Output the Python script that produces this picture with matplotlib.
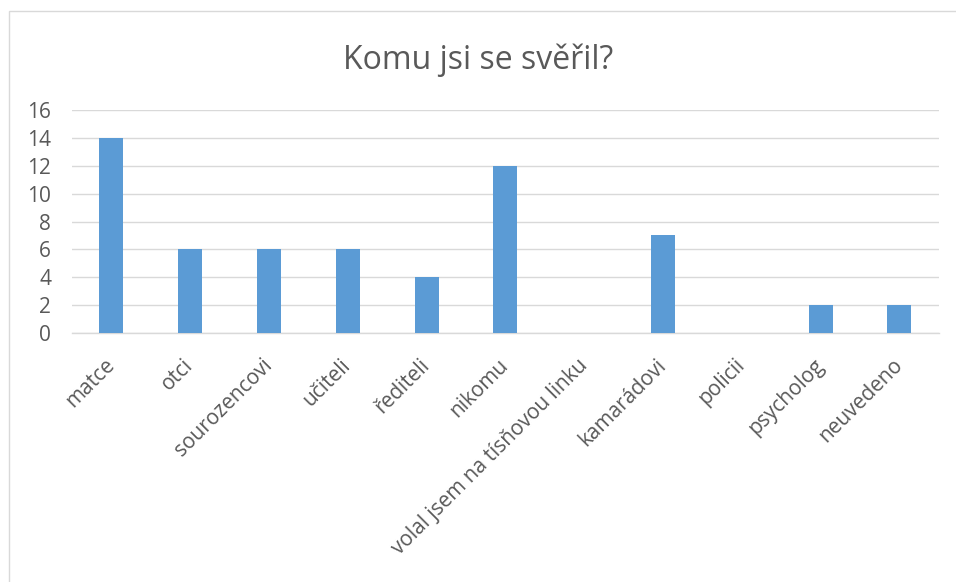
import matplotlib.pyplot as plt
from matplotlib.patches import Rectangle

kategorie = ["matce", "otci", "sourozencovi", "učiteli", "řediteli", "nikomu",
             "volal jsem na tísňovou linku", "kamarádovi", "policii",
             "psycholog", "neuvedeno"]
pocty = [14, 6, 6, 6, 4, 12, 0, 7, 0, 2, 2]
yticks = [0, 2, 4, 6, 8, 10, 12, 14, 16]

plt.rcParams['font.family'] = ['Open Sans', 'DejaVu Sans']

fig = plt.figure(figsize=(9.56, 5.82), dpi=100)
ax = fig.add_axes([0.0753, 0.4278, 0.9067, 0.3832])

x = list(range(len(kategorie)))
ax.bar(x, pocty, width=0.305, color="#5B9BD5", zorder=3)

ax.set_xlim(-0.5, len(kategorie) - 0.5)
ax.set_ylim(0, 16)
ax.set_yticks(yticks)
ax.set_xticks(x)
ax.set_xticklabels(kategorie, rotation=45, ha="right", va="center",
                   rotation_mode="anchor", fontsize=15, color="#595959")
ax.tick_params(axis="x", length=0, pad=21)
ax.tick_params(axis="y", length=0, pad=15, labelsize=15, labelcolor="#595959")
ax.grid(axis="y", color="#d9d9d9", linewidth=1, zorder=0)
for s in ["top", "right", "left"]:
    ax.spines[s].set_visible(False)
ax.spines["bottom"].set_color("#d9d9d9")
ax.spines["bottom"].set_linewidth(1)

fig.text(0.5, 0.897, "Komu jsi se svěřil?", ha="center", va="center",
         fontsize=23, color="#595959")

# ramecek grafu
fig.patches.append(Rectangle((9 / 956, -0.01), 1.0, 1 - 11 / 582 + 0.01,
                             transform=fig.transFigure, fill=False,
                             edgecolor="#d9d9d9", linewidth=1))

fig.savefig("out.png", dpi=100)
